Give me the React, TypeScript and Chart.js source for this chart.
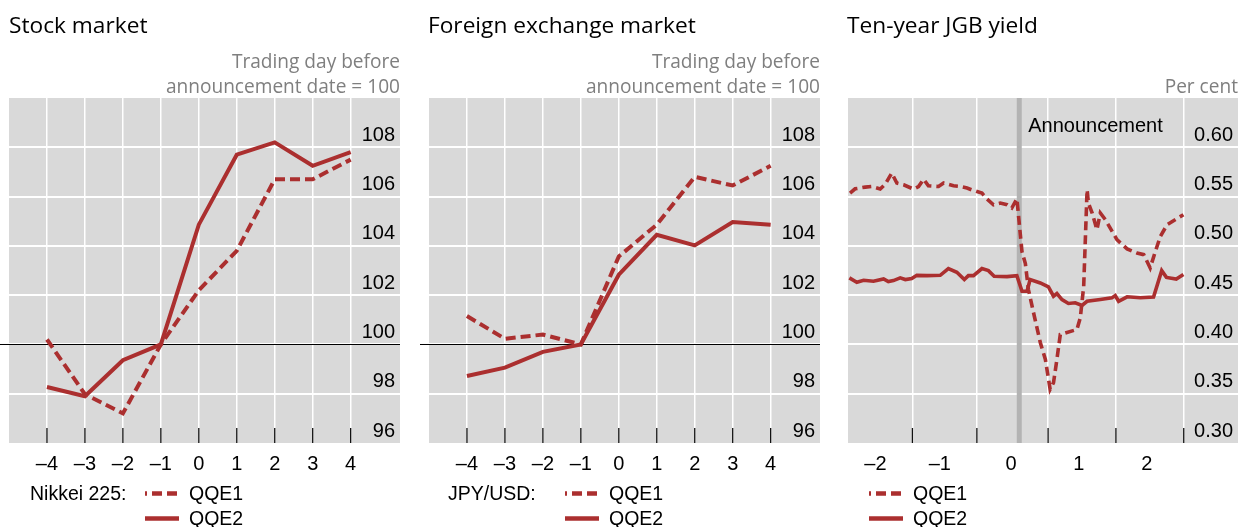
import React, { useEffect, useRef } from 'react';
import { Chart, registerables } from 'chart.js';

Chart.register(...registerables);

// ---------- data ----------
const dayTicks = [-4, -3, -2, -1, 0, 1, 2, 3, 4];
const dayLabels = ['\u20134', '\u20133', '\u20132', '\u20131', '0', '1', '2', '3', '4'];
const indexTicks = [96, 98, 100, 102, 104, 106, 108];

const stockQQE1 = [100.2, 97.98, 97.2, 100, 102.2, 103.8, 106.7, 106.7, 107.5];
const stockQQE2 = [98.27, 97.9, 99.36, 100, 104.86, 107.7, 108.2, 107.25, 107.8];

const fxQQE1 = [101.15, 100.23, 100.4, 100, 103.57, 104.86, 106.8, 106.45, 107.25];
const fxQQE2 = [98.72, 99.06, 99.7, 100, 102.83, 104.45, 104.02, 104.97, 104.86];

// Ten-year JGB yield: trading days relative to announcement
const monthBoundaries = [-31.5, -12.5, 8.5, 28.5, 48.5];
const monthLabels = ['\u20132', '\u20131', '0', '1', '2'];
const yieldTicks = [0.3, 0.35, 0.4, 0.45, 0.5, 0.55, 0.6];

const jgbQQE1Days = [
  -49.9, -48.4, -45.4, -43.5, -41.0, -39.5, -37.6, -36.1, -34.1, -31.2, -29.7, -28.2, -26.8,
  -23.8, -22.3, -19.4, -17.4, -15.4, -13.5, -11.0, -9.5, -7.6, -5.6, -3.6, -2.2, -0.7, 0.8,
  1.8, 2.7, 4.2, 6.2, 7.7, 9.1, 10.1, 11.1, 12.1, 17.0, 18.0, 19.0, 20.0, 20.4, 21.5, 22.9,
  23.9, 25.4, 28.8, 31.8, 34.7, 36.7, 38.6, 40.1, 41.6, 43.6, 48.4,
];
const jgbQQE1 = [
  0.5535, 0.5579, 0.5596, 0.5602, 0.5576, 0.5626, 0.5738, 0.5637, 0.562, 0.5576, 0.5602, 0.5677, 0.5609,
  0.5602, 0.5637, 0.5609, 0.5602, 0.5586, 0.5562, 0.5535, 0.5475, 0.5417, 0.5434, 0.5417, 0.5384, 0.5478, 0.4941,
  0.482, 0.4557, 0.4324, 0.402, 0.3848, 0.3545, 0.3612, 0.3848, 0.4101, 0.4152, 0.427, 0.459, 0.5569, 0.5434, 0.5333, 0.5164,
  0.5333, 0.5265, 0.5063, 0.4969, 0.4928, 0.4911, 0.4776, 0.4939, 0.5096, 0.5215, 0.5316,
];

const jgbQQE2Days = [
  -50.1, -47.9, -45.9, -43.0, -40.0, -38.6, -37.1, -35.1, -33.6, -31.7, -30.2, -27.2, -23.3,
  -20.9, -18.4, -16.2, -15.0, -13.5, -11.0, -9.1, -7.4, -3.6, -0.7, 0.8, 2.3, 3.2, 6.2, 8.6,
  10.1, 11.1, 12.6, 14.5, 16.5, 18.5, 20.0, 23.9, 27.3, 28.3, 29.3, 31.8, 35.7, 39.6, 42.0,
  43.4, 46.3, 48.4,
];
const jgbQQE2 = [
  0.4675, 0.4631, 0.4651, 0.4641, 0.4665, 0.4638, 0.4648, 0.4675, 0.4658, 0.4668, 0.4701, 0.4698, 0.4701,
  0.4769, 0.4732, 0.4658, 0.4698, 0.4698, 0.4769, 0.4749, 0.4691, 0.4688, 0.4698, 0.454, 0.454, 0.4658, 0.4624, 0.4584,
  0.4489, 0.4516, 0.4455, 0.4415, 0.4422, 0.4395, 0.4438, 0.4455, 0.4472, 0.4496, 0.4438, 0.4483, 0.4473, 0.448, 0.4749,
  0.468, 0.4663, 0.4709,
];

// ---------- styles ----------
const RED = '#ab2f2f';
const BG = '#d9d9d9';
const AXIS_FONT = '"Liberation Sans", Arial, sans-serif';
const TITLE_FONT = '"Open Sans", "Noto Sans", sans-serif';

const decor = {
  id: 'decor',
  beforeDraw(chart: any) {
    const { ctx, chartArea: a } = chart;
    ctx.save();
    ctx.fillStyle = BG;
    ctx.fillRect(a.left, a.top, a.right - a.left, a.bottom - a.top);
    ctx.restore();
  },
  beforeDatasetsDraw(chart: any, _args: any, opts: any) {
    const { ctx, chartArea: a } = chart;
    const x = chart.scales.x;
    const y = chart.scales.y;
    ctx.save();
    if (opts.band !== undefined && opts.band !== null) {
      const px = x.getPixelForValue(opts.band);
      ctx.fillStyle = '#b3b3b3';
      ctx.fillRect(px - 2.5, a.top, 5, a.bottom - a.top);
    }
    ctx.strokeStyle = '#111';
    ctx.lineWidth = 1.3;
    x.ticks.forEach((t: any) => {
      const px = x.getPixelForValue(t.value);
      ctx.beginPath();
      ctx.moveTo(px, a.bottom - 15);
      ctx.lineTo(px, a.bottom);
      ctx.stroke();
    });
    if (opts.baseline !== undefined && opts.baseline !== null) {
      const py = Math.round(y.getPixelForValue(opts.baseline)) + 0.5;
      ctx.strokeStyle = '#000';
      ctx.lineWidth = 1;
      ctx.beginPath();
      ctx.moveTo(a.left - 9, py);
      ctx.lineTo(a.right, py);
      ctx.stroke();
    }
    ctx.restore();
  },
  afterDraw(chart: any, _args: any, opts: any) {
    const { ctx, chartArea: a } = chart;
    const x = chart.scales.x;
    const y = chart.scales.y;
    ctx.save();
    ctx.font = `20px ${AXIS_FONT}`;
    ctx.fillStyle = '#000';
    ctx.textAlign = 'right';
    ctx.textBaseline = 'middle';
    y.ticks.forEach((t: any) => {
      ctx.fillText(t.value.toFixed(opts.decimals || 0), a.right - 5, y.getPixelForValue(t.value) - 12);
    });
    if (opts.bandLabel) {
      ctx.textAlign = 'left';
      ctx.fillText(opts.bandLabel, x.getPixelForValue(opts.band) + 9, a.top + 28);
    }
    ctx.restore();
  },
};

function makeConfig(p: {
  q1: { x: number; y: number }[];
  q2: { x: number; y: number }[];
  xMin: number;
  xMax: number;
  xTicks: number[];
  xLabels: string[];
  labelOffset: number;
  yMin: number;
  yMax: number;
  yTicks: number[];
  decimals: number;
  padLeft: number;
  padRight: number;
  lineWidth: number;
  dash: number[];
  baseline?: number;
  band?: number;
  bandLabel?: string;
}): any {
  return {
    type: 'line',
    data: {
      datasets: [
        {
          label: 'QQE1',
          data: p.q1,
          borderColor: RED,
          borderWidth: p.lineWidth,
          borderDash: p.dash,
          pointRadius: 0,
          tension: 0,
          fill: false,
        },
        {
          label: 'QQE2',
          data: p.q2,
          borderColor: RED,
          borderWidth: p.lineWidth,
          pointRadius: 0,
          tension: 0,
          fill: false,
        },
      ],
    },
    options: {
      animation: false,
      responsive: false,
      devicePixelRatio: 1,
      layout: { padding: { left: p.padLeft, right: p.padRight, top: 8, bottom: 0 } },
      plugins: {
        legend: { display: false },
        tooltip: { enabled: false },
        decor: { baseline: p.baseline, band: p.band, bandLabel: p.bandLabel, decimals: p.decimals },
      },
      scales: {
        x: {
          type: 'linear',
          position: 'bottom',
          min: p.xMin,
          max: p.xMax,
          afterBuildTicks: (s: any) => {
            s.ticks = p.xTicks.map((v) => ({ value: v }));
          },
          afterFit: (s: any) => {
            s.height = 37;
          },
          grid: { color: '#ffffff', lineWidth: 1.5, drawTicks: false },
          border: { display: false },
          ticks: {
            autoSkip: false,
            maxRotation: 0,
            padding: 9,
            labelOffset: p.labelOffset,
            color: '#000',
            font: { family: AXIS_FONT, size: 20 },
            callback: (_v: any, i: number) => p.xLabels[i],
          },
        },
        y: {
          type: 'linear',
          position: 'right',
          min: p.yMin,
          max: p.yMax,
          afterBuildTicks: (s: any) => {
            s.ticks = p.yTicks.map((v) => ({ value: v }));
          },
          afterFit: (s: any) => {
            s.width = 0;
          },
          grid: {
            color: (c: any) => (c.index === 0 ? 'rgba(0,0,0,0)' : '#ffffff'),
            lineWidth: 2,
            drawTicks: false,
          },
          border: { display: false },
          ticks: { display: false },
        },
      },
    },
    plugins: [decor],
  };
}

function ChartBox({ left, top, width, height, config }: any) {
  const ref = useRef<HTMLCanvasElement>(null);
  useEffect(() => {
    if (!ref.current) return;
    const chart = new Chart(ref.current, config);
    return () => chart.destroy();
  }, []);
  return (
    <canvas
      ref={ref}
      width={width}
      height={height}
      style={{ position: 'absolute', left, top, width, height }}
    />
  );
}

const toPts = (xs: number[], ys: number[]) => xs.map((x, i) => ({ x, y: ys[i] }));

const stockConfig = makeConfig({
  q1: toPts(dayTicks, stockQQE1),
  q2: toPts(dayTicks, stockQQE2),
  xMin: -5,
  xMax: 5.3,
  xTicks: dayTicks,
  xLabels: dayLabels,
  labelOffset: 0,
  yMin: 96,
  yMax: 110,
  yTicks: indexTicks,
  decimals: 0,
  padLeft: 9,
  padRight: 10,
  lineWidth: 4,
  dash: [10, 5],
  baseline: 100,
});

const fxConfig = makeConfig({
  q1: toPts(dayTicks, fxQQE1),
  q2: toPts(dayTicks, fxQQE2),
  xMin: -5,
  xMax: 5.3,
  xTicks: dayTicks,
  xLabels: dayLabels,
  labelOffset: 0,
  yMin: 96,
  yMax: 110,
  yTicks: indexTicks,
  decimals: 0,
  padLeft: 9,
  padRight: 10,
  lineWidth: 4,
  dash: [10, 5],
  baseline: 100,
});

const jgbConfig = makeConfig({
  q1: toPts(jgbQQE1Days, jgbQQE1),
  q2: toPts(jgbQQE2Days, jgbQQE2),
  xMin: -50.5,
  xMax: 64.5,
  xTicks: monthBoundaries,
  xLabels: monthLabels,
  labelOffset: -37,
  yMin: 0.3,
  yMax: 0.65,
  yTicks: yieldTicks,
  decimals: 2,
  padLeft: 8,
  padRight: 1,
  lineWidth: 3.6,
  dash: [9, 5],
  band: 0,
  bandLabel: 'Announcement',
});

function Legend({ x, label, labelX }: { x: number; label?: string; labelX?: number }) {
  return (
    <g>
      {label ? (
        <text x={labelX} y={500} fontFamily={AXIS_FONT} fontSize={19.5} fill="#000">
          {label}
        </text>
      ) : null}
      <line x1={x} x2={x + 34} y1={493.5} y2={493.5} stroke={RED} strokeWidth={4.5} strokeDasharray="10 5" strokeDashoffset={8} />
      <text x={x + 44} y={500} fontFamily={AXIS_FONT} fontSize={19.5} fill="#000">QQE1</text>
      <line x1={x} x2={x + 34} y1={518.5} y2={518.5} stroke={RED} strokeWidth={4.5} />
      <text x={x + 44} y={525} fontFamily={AXIS_FONT} fontSize={19.5} fill="#000">QQE2</text>
    </g>
  );
}

export default function App() {
  return (
    <div style={{ position: 'absolute', left: 0, top: 0, width: 1239, height: 527, background: '#fff', overflow: 'hidden' }}>
      <ChartBox left={0} top={90} width={410} height={390} config={stockConfig} />
      <ChartBox left={420} top={90} width={410} height={390} config={fxConfig} />
      <ChartBox left={840} top={90} width={399} height={390} config={jgbConfig} />
      <svg width={1239} height={527} style={{ position: 'absolute', left: 0, top: 0, pointerEvents: 'none' }}>
        <g fontFamily={TITLE_FONT} fontSize={22.7} fill="#000">
          <text x={9} y={33}>Stock market</text>
          <text x={428} y={33}>Foreign exchange market</text>
          <text x={847} y={33}>Ten-year JGB yield</text>
        </g>
        <g fontFamily={TITLE_FONT} fontSize={19.1} fill="#7f7f7f" textAnchor="end">
          <text x={400} y={68}>Trading day before</text>
          <text x={400} y={93}>announcement date = 100</text>
          <text x={820} y={68}>Trading day before</text>
          <text x={820} y={93}>announcement date = 100</text>
          <text x={1238} y={93}>Per cent</text>
        </g>
        <Legend x={145} label="Nikkei 225:" labelX={30} />
        <Legend x={565} label="JPY/USD:" labelX={448} />
        <Legend x={869} />
      </svg>
    </div>
  );
}
